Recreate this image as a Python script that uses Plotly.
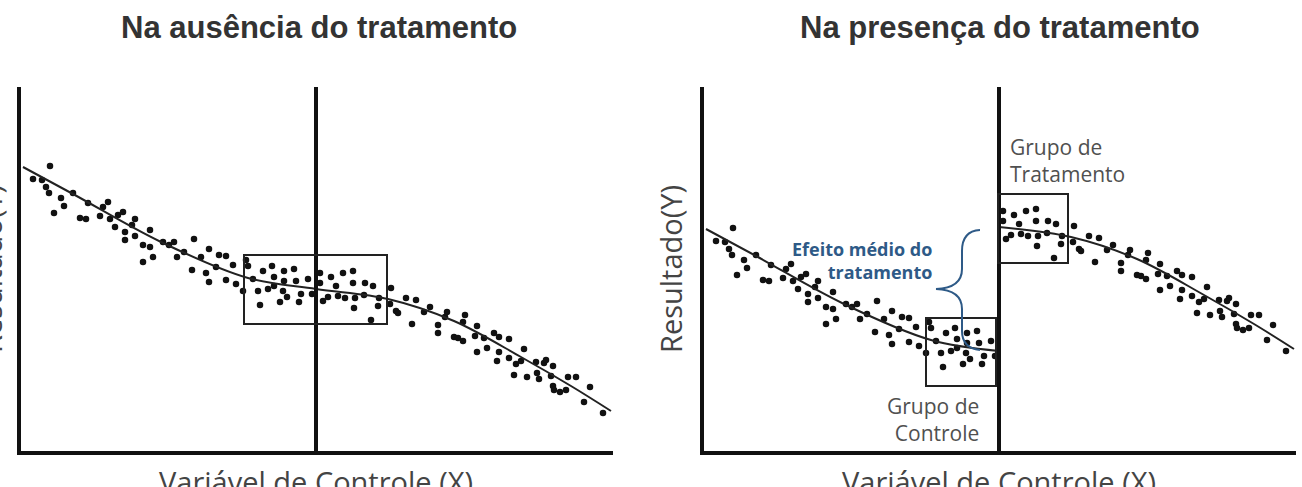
import plotly.graph_objects as go

# ---------------- data (score units) ----------------
# Control variable (X) and outcome (Y) in the absence of treatment
x_obs = [29, 12, 21, 25, 28, 33, 40, 43, 52, 59, 65, 67, 79, 82, 87, 89, 94, 97, 102, 104,
         104, 111, 114, 114, 122, 122, 129, 129, 132, 142, 148, 153, 156, 163, 171, 173, 180, 185, 188, 188,
         198, 205, 195, 205, 212, 215, 222, 225, 227, 232, 237, 239, 242, 247, 251, 253, 253, 259, 262, 263,
         263, 266, 273, 275, 278, 280, 287, 291, 299, 299, 302, 310, 322, 332, 315, 332, 344, 352, 307, 317,
         324, 334, 343, 333, 357, 358, 350, 370, 369, 375, 377, 385, 395, 391, 403, 409, 417, 417, 426, 424,
         433, 437, 442, 444, 442, 454, 456, 456, 463, 466, 473, 478, 478, 476, 488, 488, 493, 495, 500, 503,
         506, 515, 516, 518, 523, 525, 532, 530, 532, 533, 539, 545, 547, 555, 563, 569, 582]
y_obs = [285, 272, 271, 264, 258, 238, 253, 245, 258, 233, 232, 248, 235, 244, 249, 232, 224, 236, 239, 219,
         211, 226, 232, 215, 206, 189, 221, 204, 194, 209, 206, 209, 194, 199, 181, 212, 194, 178, 202, 169,
         196, 195, 184, 171, 186, 167, 160, 191, 185, 172, 160, 146, 180, 162, 185, 174, 165, 149, 160, 180,
         170, 154, 182, 170, 149, 157, 172, 157, 178, 168, 150, 174, 178, 180, 165, 168, 168, 165, 154, 155,
         153, 153, 156, 143, 145, 153, 131, 163, 147, 140, 138, 153, 151, 127, 139, 144, 126, 118, 139, 134,
         114, 113, 110, 136, 129, 115, 125, 99, 113, 103, 118, 114, 99, 90, 112, 93, 76, 87, 90, 102,
         74, 89, 78, 72, 88, 91, 85, 75, 65, 61, 59, 61, 74, 74, 49, 64, 38]

# fitted regression curve
curve_x = [2, 52, 140, 227, 295, 367, 433, 500, 550, 590]
curve_y = [284, 257, 209, 173, 162, 152, 130, 94, 65, 40]

CUTOFF = 295          # threshold on the control variable
SHIFT = 62            # vertical displacement of each side in the treated panel

X_RANGE = [0, 592]
Y_RANGE = [0, 364]

# comparison windows around the cutoff
WIN_LEFT = [223, 366, 127, 196]       # x0, x1, y0, y1 (no treatment)
WIN_CTRL = [222, 292, 65, 133]        # control group window
WIN_TREAT = [294, 364, 188, 257]      # treatment group window

TITLES = ["Na ausência do tratamento", "Na presença do tratamento"]
X_LABEL = "Variável de Controle (X)"
Y_LABEL = "Resultado(Y)"

# ---------------- derived series for the treated panel ----------------
ctrl_x = [x for x in x_obs if x < CUTOFF]
ctrl_y = [y - SHIFT for x, y in zip(x_obs, y_obs) if x < CUTOFF]
trt_x = [x for x in x_obs if x >= CUTOFF]
trt_y = [y + SHIFT for x, y in zip(x_obs, y_obs) if x >= CUTOFF]
cc_x = [x for x in curve_x if x <= CUTOFF]
cc_y = [y - SHIFT for x, y in zip(curve_x, curve_y) if x <= CUTOFF]
ct_x = [x for x in curve_x if x >= CUTOFF]
ct_y = [y + SHIFT for x, y in zip(curve_x, curve_y) if x >= CUTOFF]

W, H = 1302, 487
DOT = dict(color="#111111", size=6.5)
LINE = dict(color="#222222", width=2, shape="spline", smoothing=1.0)

fig = go.Figure()
# left panel
fig.add_trace(go.Scatter(x=x_obs, y=y_obs, mode="markers", marker=DOT, xaxis="x", yaxis="y", hoverinfo="skip"))
fig.add_trace(go.Scatter(x=curve_x, y=curve_y, mode="lines", line=LINE, xaxis="x", yaxis="y", hoverinfo="skip"))
# right panel
fig.add_trace(go.Scatter(x=ctrl_x, y=ctrl_y, mode="markers", marker=DOT, xaxis="x2", yaxis="y2", hoverinfo="skip"))
fig.add_trace(go.Scatter(x=trt_x, y=trt_y, mode="markers", marker=DOT, xaxis="x2", yaxis="y2", hoverinfo="skip"))
fig.add_trace(go.Scatter(x=cc_x, y=cc_y, mode="lines", line=LINE, xaxis="x2", yaxis="y2", hoverinfo="skip"))
fig.add_trace(go.Scatter(x=ct_x, y=ct_y, mode="lines", line=LINE, xaxis="x2", yaxis="y2", hoverinfo="skip"))

ax_common = dict(showgrid=False, zeroline=False, showticklabels=False, ticks="",
                 showline=True, linecolor="#111111", linewidth=4, fixedrange=True)
ydom = [1 - 451 / H, 1 - 87 / H]
fig.update_layout(
    width=W, height=H,
    margin=dict(l=0, r=0, t=0, b=0),
    paper_bgcolor="white", plot_bgcolor="white",
    showlegend=False,
    xaxis=dict(domain=[21 / W, 613 / W], range=X_RANGE, anchor="y", **ax_common),
    yaxis=dict(domain=ydom, range=Y_RANGE, anchor="x", **ax_common),
    xaxis2=dict(domain=[704 / W, 1296 / W], range=X_RANGE, anchor="y2", **ax_common),
    yaxis2=dict(domain=ydom, range=Y_RANGE, anchor="x2", **ax_common),
)

shapes = []
for xr, yr in [("x", "y"), ("x2", "y2")]:
    shapes.append(dict(type="line", xref=xr, yref=yr, x0=CUTOFF, x1=CUTOFF, y0=Y_RANGE[0], y1=Y_RANGE[1],
                       line=dict(color="#111111", width=4)))
for xr, yr, win in [("x", "y", WIN_LEFT), ("x2", "y2", WIN_CTRL), ("x2", "y2", WIN_TREAT)]:
    shapes.append(dict(type="rect", xref=xr, yref=yr, x0=win[0], x1=win[1], y0=win[2], y1=win[3],
                       line=dict(color="#222222", width=2), fillcolor="rgba(0,0,0,0)"))
# curly brace marking the average treatment effect
shapes.append(dict(type="path", xref="x2", yref="y2",
                   path="M 276,221 Q 258,220 258,200 L 258,182 Q 258,163 232,162 "
                        "Q 258,161 258,142 L 258,120 Q 258,103 276,101",
                   line=dict(color="#2e5a87", width=2)))
fig.update_layout(shapes=shapes)

title_font = dict(family="Liberation Sans Narrow, Arial Narrow, Liberation Sans, Arial", size=31, color="#333333")
lab_font = dict(family="Open Sans, Liberation Sans", size=29, color="#444444")
grp_font = dict(family="Open Sans, Liberation Sans", size=21, color="#505050")

ann = [
    dict(text="<b>" + TITLES[0] + "</b>", x=319 / W, y=1 - 28 / H, font=title_font),
    dict(text="<b>" + TITLES[1] + "</b>", x=1000 / W, y=1 - 28 / H, font=title_font),
    dict(text=X_LABEL, x=316 / W, y=1 - 481 / H, font=lab_font),
    dict(text=X_LABEL, x=999 / W, y=1 - 481 / H, font=lab_font),
    dict(text=Y_LABEL, x=-10 / W, y=1 - 269 / H, font=lab_font, textangle=-90),
    dict(text=Y_LABEL, x=670 / W, y=1 - 269 / H, font=lab_font, textangle=-90),
    dict(text="Grupo de<br>Tratamento", x=1008 / W, y=1 - 160 / H, xanchor="left", align="left", font=grp_font),
    dict(text="Grupo de<br>Controle", x=981 / W, y=1 - 419 / H, xanchor="right", align="right", font=grp_font),
    dict(text="<b>Efeito médio do<br>tratamento</b>", x=934 / W, y=1 - 260 / H, xanchor="right", align="right",
         font=dict(family="Open Sans, Liberation Sans", size=18, color="#2e5a87")),
]
for a in ann:
    a.setdefault("xanchor", "center")
    a.update(xref="paper", yref="paper", yanchor="middle", showarrow=False)
fig.update_layout(annotations=ann)

fig.write_html("out.html", config={"displayModeBar": False, "staticPlot": True},
               post_script="document.body.style.margin='0px';")
